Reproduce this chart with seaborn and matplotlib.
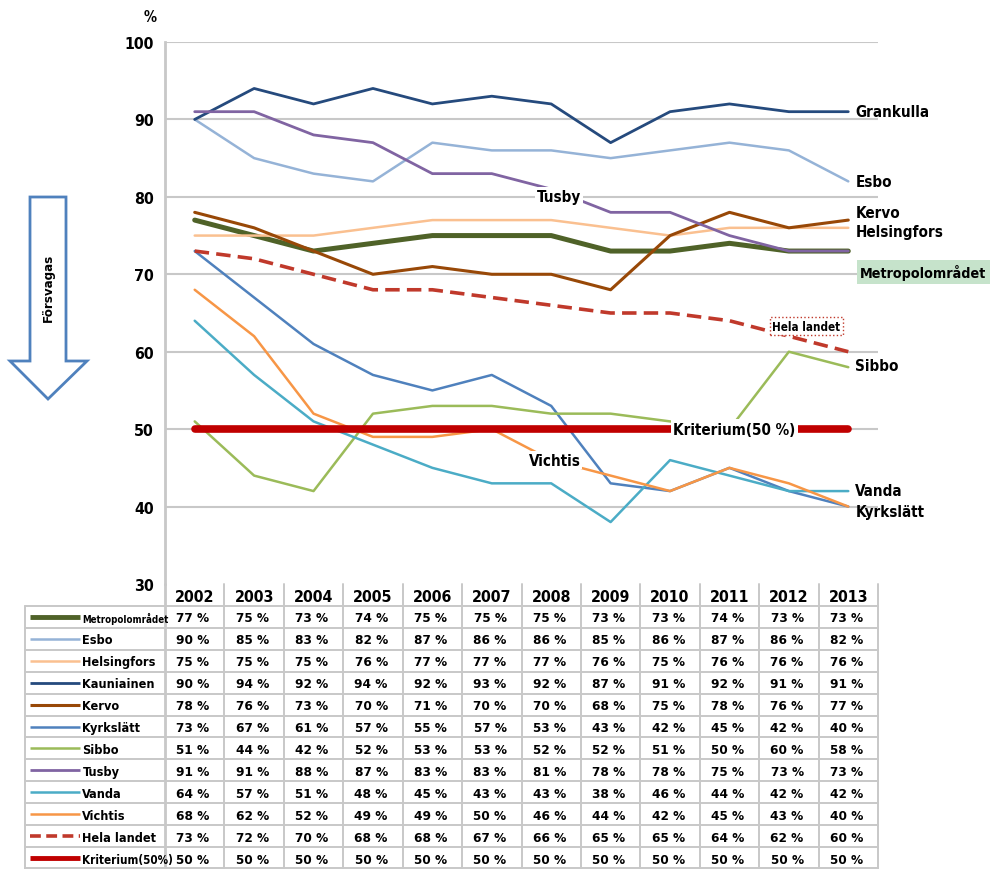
import numpy as np
import pandas as pd
import matplotlib
matplotlib.use("Agg")
import matplotlib.pyplot as plt
import seaborn as sns
from matplotlib import font_manager as fm
from matplotlib.patches import Polygon

years = [2002, 2003, 2004, 2005, 2006, 2007, 2008, 2009, 2010, 2011, 2012, 2013]
metro = [77, 75, 73, 74, 75, 75, 75, 73, 73, 74, 73, 73]
esbo = [90, 85, 83, 82, 87, 86, 86, 85, 86, 87, 86, 82]
helsingfors = [75, 75, 75, 76, 77, 77, 77, 76, 75, 76, 76, 76]
kauniainen = [90, 94, 92, 94, 92, 93, 92, 87, 91, 92, 91, 91]
kervo = [78, 76, 73, 70, 71, 70, 70, 68, 75, 78, 76, 77]
kyrkslatt = [73, 67, 61, 57, 55, 57, 53, 43, 42, 45, 42, 40]
sibbo = [51, 44, 42, 52, 53, 53, 52, 52, 51, 50, 60, 58]
tusby = [91, 91, 88, 87, 83, 83, 81, 78, 78, 75, 73, 73]
vanda = [64, 57, 51, 48, 45, 43, 43, 38, 46, 44, 42, 42]
vichtis = [68, 62, 52, 49, 49, 50, 46, 44, 42, 45, 43, 40]
hela_landet = [73, 72, 70, 68, 68, 67, 66, 65, 65, 64, 62, 60]
kriterium = [50, 50, 50, 50, 50, 50, 50, 50, 50, 50, 50, 50]

series_names = ["Metropolområdet", "Esbo", "Helsingfors", "Kauniainen", "Kervo",
                "Kyrkslätt", "Sibbo", "Tusby", "Vanda", "Vichtis",
                "Hela landet", "Kriterium(50%)"]
series_values = [metro, esbo, helsingfors, kauniainen, kervo, kyrkslatt,
                 sibbo, tusby, vanda, vichtis, hela_landet, kriterium]

colors = ["#4f6228", "#95b3d7", "#fac090", "#254a7d", "#984807", "#4f81bd",
          "#9bbb59", "#8064a2", "#4bacc6", "#f79646", "#c0392b", "#c00000"]
widths = [3.6, 1.8, 1.8, 2.0, 2.2, 1.8, 1.8, 2.0, 1.8, 1.8, 2.6, 5.5]

sns.set_style("white")

# pick a narrow bold font if one is installed, else shrink DejaVu a bit
scale = 1.0
stretch = "normal"
try:
    fm.findfont(fm.FontProperties(family="Liberation Sans Narrow", weight="bold"),
                fallback_to_default=False)
    plt.rcParams["font.family"] = ["Liberation Sans Narrow", "DejaVu Sans"]
except Exception:
    plt.rcParams["font.family"] = ["DejaVu Sans"]
    p = fm.findfont(fm.FontProperties(family="DejaVu Sans", weight="bold",
                                      stretch="condensed"))
    if "Condensed" in p:
        stretch = "condensed"
        scale = 0.95
    else:
        scale = 0.8
plt.rcParams["font.weight"] = "bold"
plt.rcParams["font.stretch"] = stretch
plt.rcParams["text.color"] = "black"
plt.rcParams["ytick.labelcolor"] = "black"


def fs(v):
    return v * scale


df = pd.DataFrame({"year": years})
for name, vals in zip(series_names, series_values):
    df[name] = vals
long = df.melt(id_vars="year", var_name="serie", value_name="andel")

fig = plt.figure(figsize=(9.92, 8.70), dpi=100)

# --- overlay for the "Försvagas" arrow ---
bg = fig.add_axes([0, 0, 1, 1], zorder=0)
bg.set_xlim(0, 992)
bg.set_ylim(870, 0)
bg.axis("off")
arrow = Polygon([[30, 198], [66, 198], [66, 362], [87, 362], [48, 400],
                 [10, 362], [30, 362]], closed=True, facecolor="white",
                edgecolor="#4f81bd", lw=2)
bg.add_patch(arrow)
bg.text(48, 288, "Försvagas", rotation=90, ha="center", va="center",
        fontsize=fs(10), fontweight="bold")
bg.text(150, 18, "%", ha="center", va="center", fontsize=fs(11), fontweight="bold")

# --- main chart ---
ax = fig.add_axes([165 / 992, 1 - 585 / 870, 713 / 992, 542 / 870], zorder=2)
ax.patch.set_alpha(0)
for i, name in enumerate(series_names):
    sub = long[long["serie"] == name]
    sns.lineplot(data=sub, x="year", y="andel", ax=ax, color=colors[i],
                 lw=widths[i], legend=False, zorder=3 + i)
    if name == "Hela landet":
        ax.lines[-1].set_dashes([4, 2])

ax.set_xlim(years[0] - 0.5, years[-1] + 0.5)
ax.set_ylim(30, 100)
ax.set_yticks(range(30, 101, 10))
ax.set_yticklabels([str(v) for v in range(30, 101, 10)], fontsize=fs(12),
                   fontweight="bold", color="black")
ax.set_xticks([])
ax.set_xlabel("")
ax.set_ylabel("")
for y in range(40, 101, 10):
    ax.axhline(y, color="#c8c8c8", lw=1.5, zorder=1)
for s in ["top", "right", "bottom"]:
    ax.spines[s].set_visible(False)
ax.spines["left"].set_color("#c8c8c8")
ax.spines["left"].set_linewidth(2)
ax.tick_params(axis="y", length=5, color="#c8c8c8", width=1.5, pad=3)

# --- line labels ---
lab = dict(fontsize=fs(11.5), fontweight="bold", va="center", ha="left",
           clip_on=False, zorder=30, color="black")
white = dict(boxstyle="square,pad=0.1", facecolor="white", edgecolor="none")
x_end = years[-1] + 0.12
ax.text(x_end, kauniainen[-1], "Grankulla", **lab)
ax.text(x_end, esbo[-1], "Esbo", **lab)
ax.text(x_end, kervo[-1] + 1.0, "Kervo", **lab)
ax.text(x_end, helsingfors[-1] - 0.5, "Helsingfors", **lab)
ax.text(x_end + 0.08, metro[-1] - 2.7, "Metropolområdet",
        **{**lab, "fontsize": fs(10.8)},
        bbox=dict(boxstyle="square,pad=0.25", facecolor="#c6e3cb",
                  edgecolor="none"))
ax.text(x_end, sibbo[-1] + 0.2, "Sibbo", **lab)
ax.text(x_end, vanda[-1] + 0.1, "Vanda", **lab)
ax.text(x_end, kyrkslatt[-1] - 0.7, "Kyrkslätt", **lab)
ax.text(2007.76, 80.1, "Tusby", **lab, bbox=white)
ax.text(2007.62, 46.0, "Vichtis", **lab, bbox=white)
ax.text(2010.05, kriterium[8], "Kriterium(50 %)", **lab,
        bbox=dict(boxstyle="square,pad=0.15", facecolor="white", edgecolor="none"))
ax.text(2011.72, 63.3, "Hela landet", fontsize=fs(8.8), fontweight="bold",
        va="center", ha="left", zorder=30, color="black",
        bbox=dict(boxstyle="square,pad=0.2", facecolor="white",
                  edgecolor="#c0392b", linestyle=":", lw=1))

# --- data table ---
tab = fig.add_axes([165 / 992, 0, 713 / 992, 285 / 870], zorder=1)
tab.set_xlim(years[0] - 0.5, years[-1] + 0.5)
tab.set_ylim(13, 0)
tab.axis("off")
grid_c = "#c8c8c8"
left_edge = years[0] - 0.5 - 2.36
right_edge = years[-1] + 0.5
for r in range(1, 14):
    yy = min(r, 12.96)
    tab.plot([left_edge, right_edge], [yy, yy], color=grid_c, lw=1.4,
             clip_on=False)
for k in range(13):
    xx = years[0] - 0.5 + k
    tab.plot([xx, xx], [0, 13], color=grid_c, lw=1.4 if k else 2, clip_on=False)
tab.plot([left_edge, left_edge], [1, 13], color=grid_c, lw=1.4, clip_on=False)

for yr in years:
    tab.text(yr, 0.55, str(yr), ha="center", va="center", fontsize=fs(12),
             fontweight="bold")

for i, (name, vals) in enumerate(zip(series_names, series_values)):
    yc = i + 1.55
    x0 = years[0] - 0.5 - 2.27
    x1 = years[0] - 0.5 - 1.43
    ln, = tab.plot([x0, x1], [yc - 0.05, yc - 0.05], color=colors[i],
                   lw=min(widths[i], 3.5), clip_on=False,
                   solid_capstyle="butt")
    if name == "Hela landet":
        ln.set_dashes([3, 1.5])
    if name == "Metropolområdet":
        size = 7.4
    elif name.startswith("Krit"):
        size = 8.8
    else:
        size = 9.6
    tab.text(years[0] - 0.5 - 1.39, yc, name, ha="left", va="center",
             fontsize=fs(size), fontweight="bold", clip_on=False)
    for yr, v in zip(years, vals):
        tab.text(yr - 0.03, yc, f"{v} %", ha="center", va="center",
                 fontsize=fs(10.2), fontweight="bold")

fig.savefig("out.png", dpi=100, facecolor="white")
